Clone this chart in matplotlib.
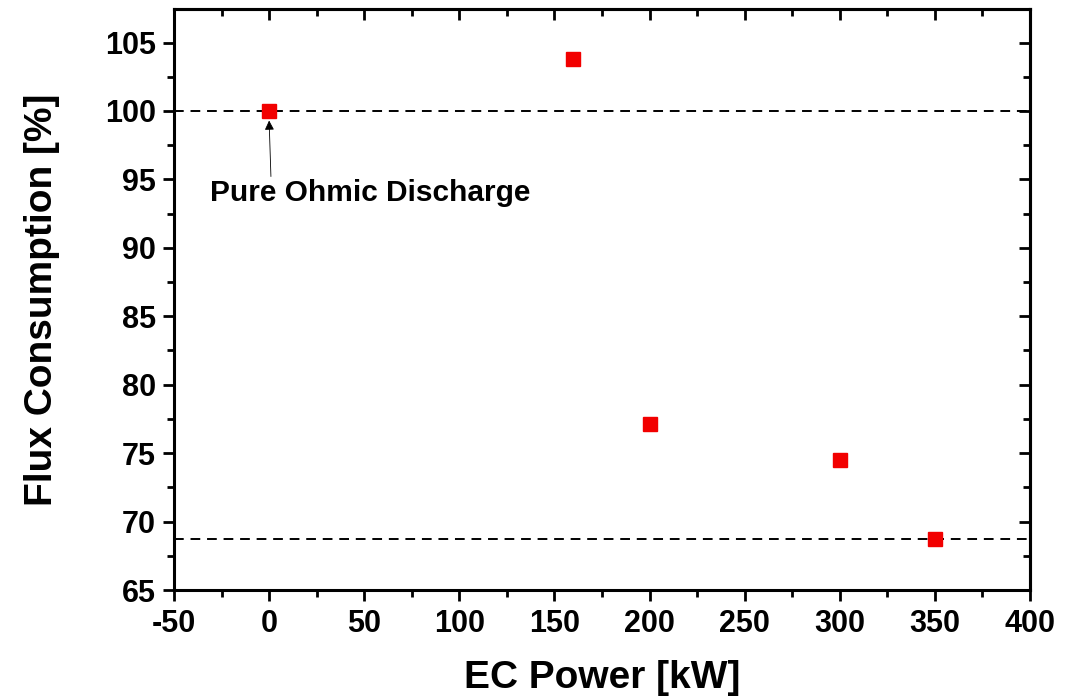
import numpy as np
import matplotlib.pyplot as plt

# EC power scan, flux consumption relative to ohmic shot
power = [0, 160, 200, 300, 350]
flux = [100.0, 103.8, 77.1, 74.5, 68.7]
ohmic_level = 100.0
min_level = 68.7

plt.rcParams['font.family'] = ['Liberation Sans', 'DejaVu Sans']
plt.rcParams['font.weight'] = 'bold'
plt.rcParams['axes.unicode_minus'] = False

fig = plt.figure(figsize=(10.7, 6.97), dpi=100)
ax = fig.add_axes([174/1070, 1 - 590/697, (1030 - 174)/1070, (590 - 9)/697])

ax.axhline(ohmic_level, color='black', ls=(0, (5, 3.5)), lw=1.4, zorder=1)
ax.axhline(min_level, color='black', ls=(0, (5, 3.5)), lw=1.4, zorder=1)
ax.plot(power, flux, 's', color='#f20000', ms=10, mec='#f20000', zorder=3)

ax.annotate('Pure Ohmic Discharge', xy=(0, 99.3), xytext=(-31, 93.4),
            fontsize=21.5, fontweight='bold',
            arrowprops=dict(arrowstyle='-|>', color='black', lw=0.6,
                            mutation_scale=14, shrinkA=0, shrinkB=0,
                            relpos=(0.19, 1.0)))

ax.set_xlim(-50, 400)
ax.set_ylim(65, 107.45)
ax.set_xticks(np.arange(-50, 401, 50))
ax.set_yticks(np.arange(65, 106, 5))
ax.set_xticks(np.arange(-25, 400, 50), minor=True)
ax.set_yticks(np.arange(67.5, 107, 5), minor=True)

ax.tick_params(which='both', direction='out', width=2, labelsize=22)
ax.tick_params(which='major', length=8)
ax.tick_params(which='minor', length=5)
ax.tick_params(axis='x', which='major', pad=6)
ax.tick_params(axis='y', which='major', pad=5)
for lab in ax.get_xticklabels() + ax.get_yticklabels():
    lab.set_fontweight('bold')

# inward ticks on the top and right frame
top = ax.secondary_xaxis('top')
top.set_xticks(np.arange(-50, 401, 50))
top.set_xticks(np.arange(-25, 400, 50), minor=True)
top.tick_params(which='both', direction='in', width=2, labeltop=False)
top.tick_params(which='major', length=8)
top.tick_params(which='minor', length=5)
right = ax.secondary_yaxis('right')
right.set_yticks(np.arange(65, 106, 5))
right.set_yticks(np.arange(67.5, 107, 5), minor=True)
right.tick_params(which='both', direction='in', width=2, labelright=False)
right.tick_params(which='major', length=8)
right.tick_params(which='minor', length=5)

for s in ax.spines.values():
    s.set_linewidth(2.2)
top.spines['top'].set_linewidth(2.2)
right.spines['right'].set_linewidth(2.2)

ax.set_xlabel('EC Power [kW]', fontsize=28, fontweight='bold', labelpad=15)
ax.set_ylabel('Flux Consumption [%]', fontsize=28, fontweight='bold', labelpad=32)

fig.savefig('out.png', dpi=100)
